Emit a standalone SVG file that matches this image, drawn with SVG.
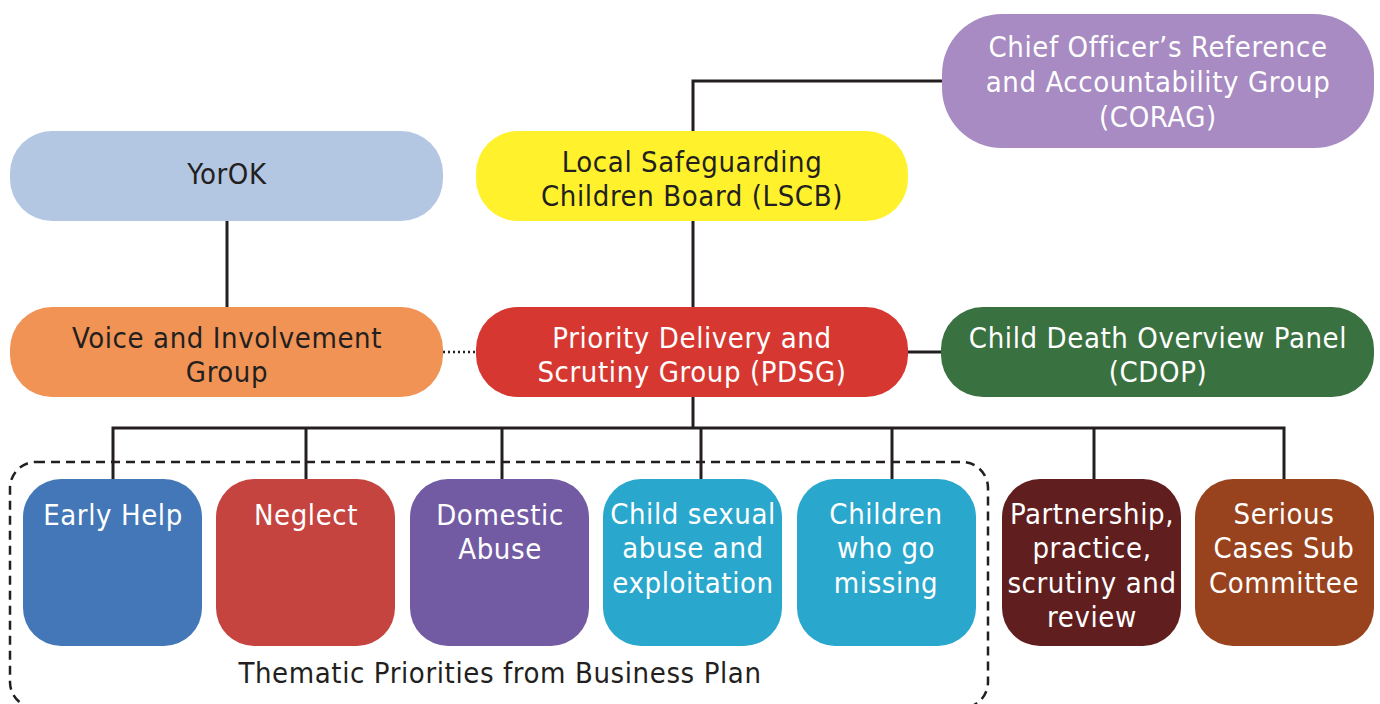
<svg xmlns="http://www.w3.org/2000/svg" width="1380" height="704" viewBox="0 0 1380 704">
<style>
text{font-family:"Liberation Sans Narrow","DejaVu Sans Condensed","Liberation Sans",sans-serif;font-size:29px;letter-spacing:0.6px;text-anchor:middle}
.w{fill:#ffffff}
.d{fill:#231f20}
.ln{stroke:#231f20;stroke-width:3;fill:none}
.dot{stroke:#231f20;stroke-width:2.5;stroke-dasharray:2 3;fill:none}
.dash{stroke:#231f20;stroke-width:2.5;stroke-dasharray:9 6;fill:none}
</style>
<rect width="1380" height="704" fill="#ffffff"/>
<g id="connectors">
<polyline class="ln" points="693,131 693,81 942,81"/>
<line class="ln" x1="693" y1="221" x2="693" y2="307"/>
<line class="ln" x1="227" y1="221" x2="227" y2="307"/>
<line class="dot" x1="443" y1="352" x2="476" y2="352"/>
<line class="ln" x1="908" y1="352" x2="941" y2="352"/>
<line class="ln" x1="693" y1="397" x2="693" y2="428"/>
<polyline class="ln" points="113,479 113,428 1284,428 1284,479"/>
<line class="ln" x1="306" y1="428" x2="306" y2="479"/>
<line class="ln" x1="502" y1="428" x2="502" y2="479"/>
<line class="ln" x1="701" y1="428" x2="701" y2="479"/>
<line class="ln" x1="892" y1="428" x2="892" y2="479"/>
<line class="ln" x1="1094" y1="428" x2="1094" y2="479"/>
</g>
<g id="thematic-group">
<rect class="dash" x="10" y="462" width="978" height="246" rx="26"/>
<text class="d" x="500" y="683">Thematic Priorities from Business Plan</text>
</g>
<g id="corag">
<rect x="942" y="14" width="432" height="134" rx="60" fill="#a78bc2"/>
<text class="w" x="1158" y="57">Chief Officer’s Reference</text>
<text class="w" x="1158" y="92">and Accountability Group</text>
<text class="w" x="1158" y="127">(CORAG)</text>
</g>
<g id="yorok">
<rect x="10" y="131" width="433" height="90" rx="42" fill="#b3c7e3"/>
<text class="d" x="227" y="184">YorOK</text>
</g>
<g id="lscb">
<rect x="476" y="131" width="432" height="90" rx="42" fill="#fff22d"/>
<text class="d" x="692" y="172">Local Safeguarding</text>
<text class="d" x="692" y="206">Children Board (LSCB)</text>
</g>
<g id="voice">
<rect x="10" y="307" width="433" height="90" rx="42" fill="#f09355"/>
<text class="d" x="227" y="348">Voice and Involvement</text>
<text class="d" x="227" y="382">Group</text>
</g>
<g id="pdsg">
<rect x="476" y="307" width="432" height="90" rx="42" fill="#d63831"/>
<text class="w" x="692" y="348">Priority Delivery and</text>
<text class="w" x="692" y="382">Scrutiny Group (PDSG)</text>
</g>
<g id="cdop">
<rect x="941" y="307" width="433" height="90" rx="42" fill="#3a7140"/>
<text class="w" x="1158" y="348">Child Death Overview Panel</text>
<text class="w" x="1158" y="382">(CDOP)</text>
</g>
<g id="early-help">
<rect x="23" y="479" width="179" height="167" rx="38" fill="#4377b7"/>
<text class="w" x="113" y="525">Early Help</text>
</g>
<g id="neglect">
<rect x="216" y="479" width="179" height="167" rx="38" fill="#c5443f"/>
<text class="w" x="306" y="525">Neglect</text>
</g>
<g id="domestic-abuse">
<rect x="410" y="479" width="179" height="167" rx="38" fill="#735ba4"/>
<text class="w" x="500" y="525">Domestic</text>
<text class="w" x="500" y="559">Abuse</text>
</g>
<g id="cse">
<rect x="603" y="479" width="179" height="167" rx="38" fill="#2aa7cd"/>
<text class="w" x="693" y="524">Child sexual</text>
<text class="w" x="693" y="558">abuse and</text>
<text class="w" x="693" y="593">exploitation</text>
</g>
<g id="missing">
<rect x="797" y="479" width="179" height="167" rx="38" fill="#2aa7cd"/>
<text class="w" x="886" y="524">Children</text>
<text class="w" x="886" y="558">who go</text>
<text class="w" x="886" y="593">missing</text>
</g>
<g id="partnership">
<rect x="1002" y="479" width="179" height="167" rx="38" fill="#611e1e"/>
<text class="w" x="1092" y="524">Partnership,</text>
<text class="w" x="1092" y="558">practice,</text>
<text class="w" x="1092" y="593">scrutiny and</text>
<text class="w" x="1092" y="627">review</text>
</g>
<g id="serious-cases">
<rect x="1195" y="479" width="179" height="167" rx="38" fill="#98431d"/>
<text class="w" x="1284" y="524">Serious</text>
<text class="w" x="1284" y="558">Cases Sub</text>
<text class="w" x="1284" y="593">Committee</text>
</g>
</svg>
